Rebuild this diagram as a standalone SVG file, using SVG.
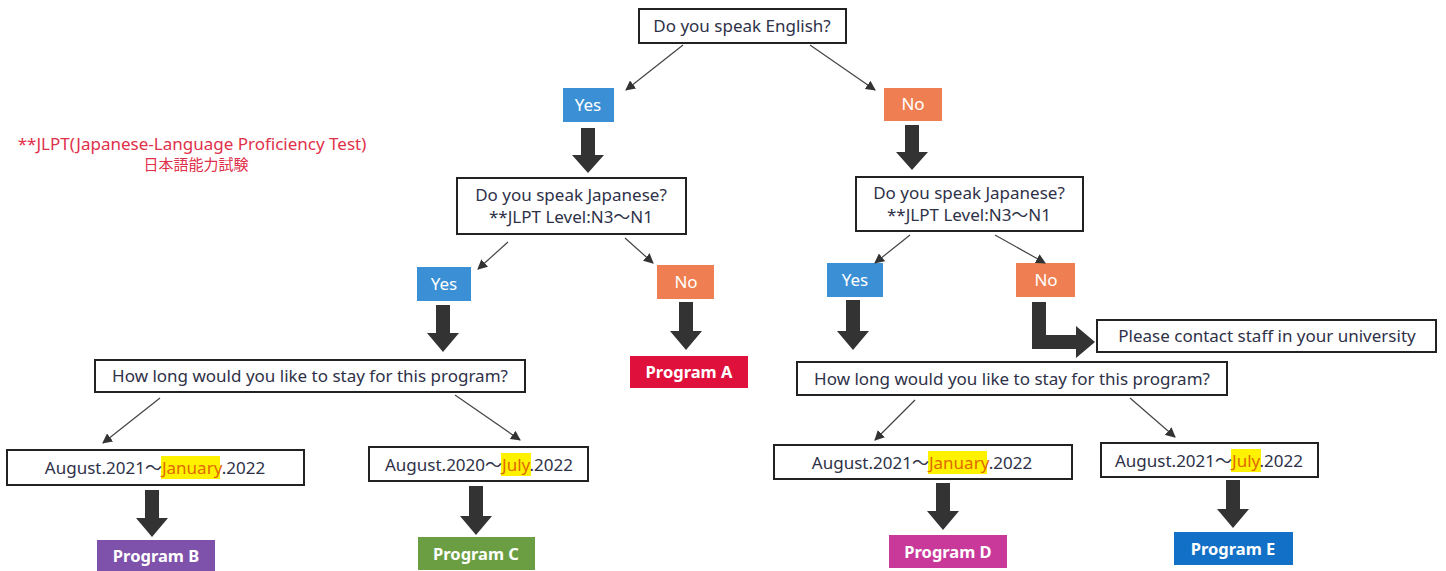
<svg xmlns="http://www.w3.org/2000/svg" width="1446" height="571" viewBox="0 0 1446 571">
<defs>
<marker id="ah" viewBox="0 0 10 10" refX="9" refY="5" markerWidth="10" markerHeight="10" markerUnits="userSpaceOnUse" orient="auto"><path d="M0,0 L10,5 L0,10 z" fill="#333"/></marker>
<style>
text{font-family:"Noto Sans","Noto Sans CJK JP",sans-serif;font-size:17px;fill:#2e3148;text-anchor:middle}
.box{fill:#fff;stroke:#222;stroke-width:2}
.yes{fill:#3b8fd5}
.no{fill:#ef7f52}
.lbl{fill:#fff}
.pg{fill:#fff;font-weight:bold;font-size:16.5px}
.thin{stroke:#444;stroke-width:1.2;fill:none;marker-end:url(#ah)}
.thick{fill:#333}
.hl{fill:#fff200}
.hlt{fill:#e06a00}
.note{fill:#e0304a;font-size:17px}
</style>
</defs>
<rect width="1446" height="571" fill="#fff"/>

<g id="note">
<text class="note" x="192" y="150">**JLPT(Japanese-Language Proficiency Test)</text>
<text class="note" x="196" y="170" style="font-family:'Noto Sans CJK JP',sans-serif;font-size:15px">日本語能力試験</text>
</g>

<g id="q-english"><rect class="box" x="639" y="9" width="207" height="34"/><text x="742" y="32">Do you speak English?</text></g>
<g id="yes1"><rect class="yes" x="563" y="88" width="51" height="34"/><text class="lbl" x="588" y="111">Yes</text></g>
<g id="no1"><rect class="no" x="884" y="88" width="58" height="33"/><text class="lbl" x="913" y="110">No</text></g>

<g id="q-jp-left"><rect class="box" x="457" y="178" width="229" height="56"/><text x="571" y="201">Do you speak Japanese?</text><text x="571" y="223">**JLPT Level:N3～N1</text></g>
<g id="q-jp-right"><rect class="box" x="856" y="177" width="227" height="54"/><text x="969" y="199">Do you speak Japanese?</text><text x="969" y="221">**JLPT Level:N3～N1</text></g>

<g id="yes2"><rect class="yes" x="417" y="267" width="54" height="34"/><text class="lbl" x="444" y="290">Yes</text></g>
<g id="no2"><rect class="no" x="657" y="265" width="57" height="34"/><text class="lbl" x="686" y="288">No</text></g>
<g id="yes3"><rect class="yes" x="827" y="263" width="56" height="34"/><text class="lbl" x="855" y="286">Yes</text></g>
<g id="no3"><rect class="no" x="1016" y="263" width="59" height="34"/><text class="lbl" x="1046" y="286">No</text></g>

<g id="prog-a"><rect x="630" y="356" width="118" height="32" fill="#e0103c"/><text class="pg" x="689" y="378">Program A</text></g>

<g id="howlong-left"><rect class="box" x="95" y="360" width="430" height="32"/><text x="310" y="382">How long would you like to stay for this program?</text></g>
<g id="howlong-right"><rect class="box" x="797" y="362" width="430" height="33"/><text x="1012" y="385">How long would you like to stay for this program?</text></g>
<g id="contact"><rect class="box" x="1097" y="320" width="339" height="32"/><text x="1267" y="342">Please contact staff in your university</text></g>

<g id="date-b"><rect class="box" x="7" y="450" width="297" height="35"/><rect class="hl" x="161" y="456" width="59" height="23"/><text x="155" y="474">August.2021～<tspan class="hlt">January</tspan>.2022</text></g>
<g id="date-c"><rect class="box" x="369" y="447" width="219" height="34"/><rect class="hl" x="501" y="453" width="30" height="23"/><text x="479" y="471">August.2020～<tspan class="hlt">July</tspan>.2022</text></g>
<g id="date-d"><rect class="box" x="774" y="445" width="298" height="34"/><rect class="hl" x="928" y="451" width="59" height="23"/><text x="922" y="469">August.2021～<tspan class="hlt">January</tspan>.2022</text></g>
<g id="date-e"><rect class="box" x="1101" y="443" width="217" height="34"/><rect class="hl" x="1231" y="449" width="30" height="23"/><text x="1209" y="467">August.2021～<tspan class="hlt">July</tspan>.2022</text></g>

<g id="prog-b"><rect x="97" y="540" width="118" height="31" fill="#7e52ab"/><text class="pg" x="156" y="562">Program B</text></g>
<g id="prog-c"><rect x="418" y="537" width="117" height="33" fill="#6b9e42"/><text class="pg" x="476" y="560">Program C</text></g>
<g id="prog-d"><rect x="889" y="535" width="118" height="33" fill="#c8399a"/><text class="pg" x="948" y="558">Program D</text></g>
<g id="prog-e"><rect x="1174" y="532" width="119" height="33" fill="#1270c6"/><text class="pg" x="1233" y="555">Program E</text></g>

<g id="connectors">
<line class="thin" x1="683" y1="45" x2="626" y2="90"/>
<line class="thin" x1="810" y1="45" x2="875" y2="90"/>
<line class="thin" x1="508" y1="242" x2="478" y2="269"/>
<line class="thin" x1="625" y1="238" x2="653" y2="263"/>
<line class="thin" x1="910" y1="235" x2="875" y2="263"/>
<line class="thin" x1="995" y1="235" x2="1045" y2="263"/>
<line class="thin" x1="160" y1="398" x2="103" y2="443"/>
<line class="thin" x1="455" y1="395" x2="520" y2="440"/>
<line class="thin" x1="915" y1="400" x2="875" y2="440"/>
<line class="thin" x1="1130" y1="398" x2="1175" y2="437"/>
<path class="thick" d="M581,128 H595 V155 H604 L588,173 L572,155 H581 Z"/>
<path class="thick" d="M905,125 H919 V152 H928 L912,170 L896,152 H905 Z"/>
<path class="thick" d="M436,305 H450 V333 H459 L443,352 L427,333 H436 Z"/>
<path class="thick" d="M679,302 H693 V331 H702 L686,350 L670,331 H679 Z"/>
<path class="thick" d="M846,300 H860 V331 H869 L853,350 L837,331 H846 Z"/>
<path class="thick" d="M1032,302 H1046 V335 H1076 V326 L1095,342 L1076,358 V349 H1032 Z"/>
<path class="thick" d="M145,490 H159 V518 H168 L152,537 L136,518 H145 Z"/>
<path class="thick" d="M469,486 H483 V516 H492 L476,535 L460,516 H469 Z"/>
<path class="thick" d="M936,483 H950 V511 H959 L943,530 L927,511 H936 Z"/>
<path class="thick" d="M1226,480 H1240 V509 H1249 L1233,528 L1217,509 H1226 Z"/>
</g>
</svg>
